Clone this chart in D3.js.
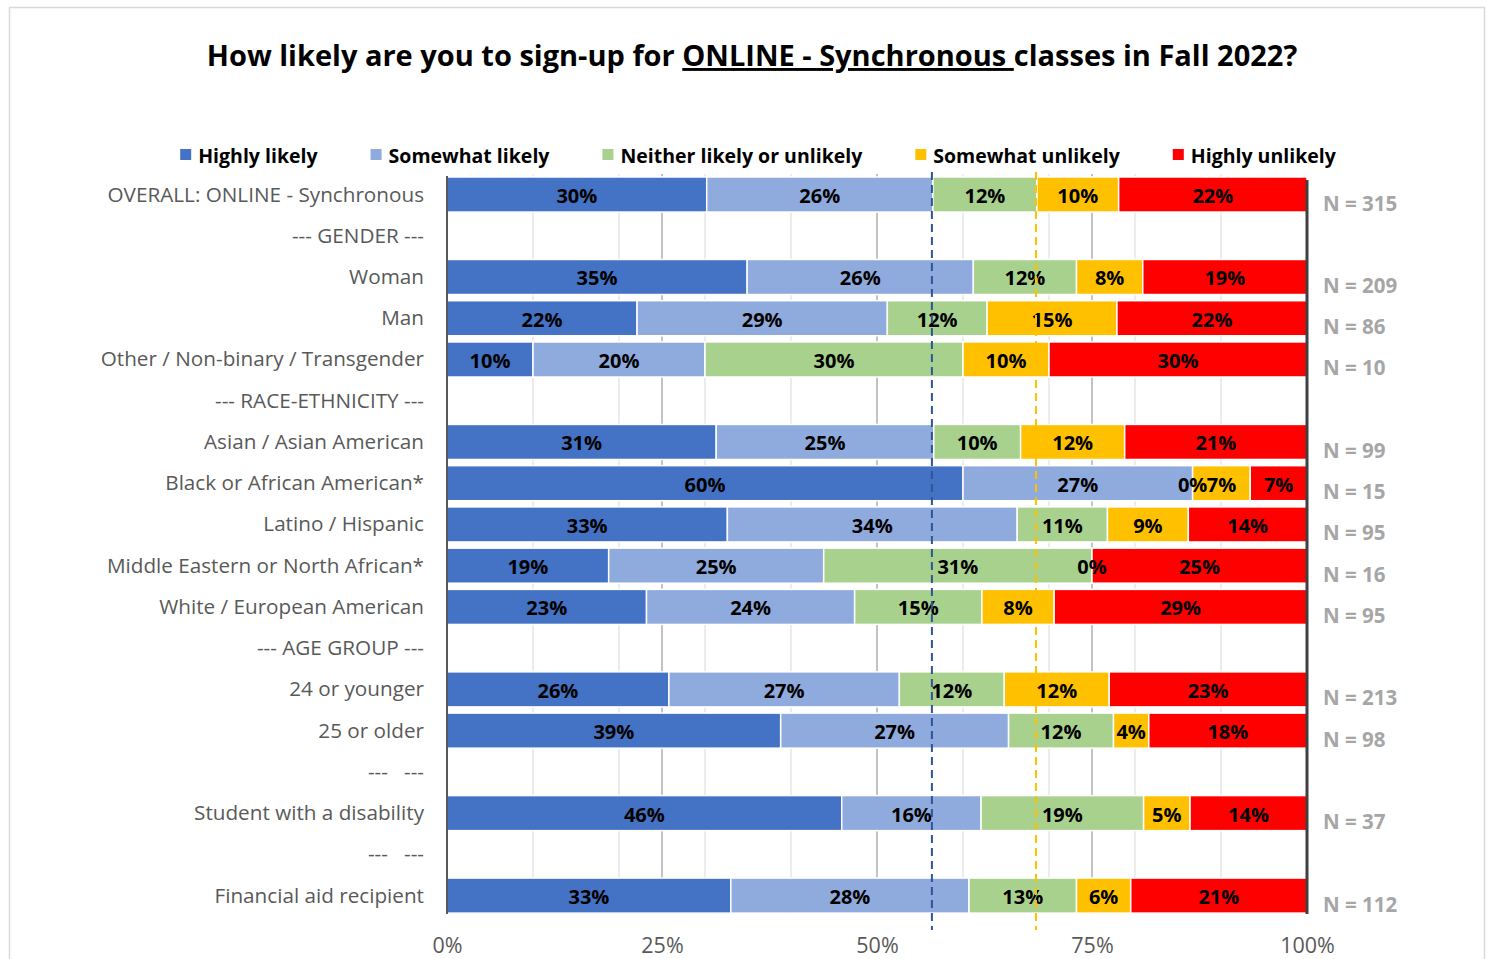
<!DOCTYPE html>
<html>
<head>
<meta charset="utf-8">
<script src="https://cdn.jsdelivr.net/npm/d3@7"></script>
<style>
  body { margin: 0; background: #fff; }
  text { font-family: "Open Sans", Lato, sans-serif; }
</style>
</head>
<body>
<div id="chart"></div>
<script>
// --- data (percent of respondents) ---
var categories = [
  "OVERALL: ONLINE - Synchronous", "--- GENDER ---", "Woman", "Man",
  "Other / Non-binary / Transgender", "--- RACE-ETHNICITY ---",
  "Asian / Asian American", "Black or African American*", "Latino / Hispanic",
  "Middle Eastern or North African*", "White / European American",
  "--- AGE GROUP ---", "24 or younger", "25 or older", "---   ---",
  "Student with a disability", "---   ---", "Financial aid recipient"
]
var seriesNames = ["Highly likely", "Somewhat likely", "Neither likely or unlikely", "Somewhat unlikely", "Highly unlikely"]
var highlyLikely     = [30.2, null, 34.9, 22.1, 10, null, 31.3, 60,   32.6, 18.8, 23.2, null, 25.8, 38.8, null, 45.9, null, 33.0]
var somewhatLikely   = [26.3, null, 26.3, 29.1, 20, null, 25.3, 26.7, 33.7, 25,   24.2, null, 26.8, 26.5, null, 16.2, null, 27.7]
var neither          = [12.1, null, 12.0, 11.6, 30, null, 10.1, 0,    10.5, 31.2, 14.8, null, 12.2, 12.2, null, 18.9, null, 12.5]
var somewhatUnlikely = [9.5,  null, 7.7,  15.1, 10, null, 12.1, 6.7,  9.4,  0,    8.4,  null, 12.2, 4.1,  null, 5.4,  null, 6.3]
var highlyUnlikely   = [21.9, null, 19.1, 22.1, 30, null, 21.2, 6.6,  13.8, 25,   29.4, null, 23.0, 18.4, null, 13.6, null, 20.5]
var nValues = [315, null, 209, 86, 10, null, 99, 15, 95, 16, 95, null, 213, 98, null, 37, null, 112]
var xTicks = [0, 25, 50, 75, 100]

var colors = ["#4472C4", "#8FAADC", "#A9D18E", "#FFC000", "#FF0000"]

var W = 1491, H = 959
var margin = {top: 174, right: 184, bottom: 45, left: 447}

var svg = d3.select("#chart").append("svg").attr("width", W).attr("height", H)

// frame
svg.append("rect").attr("x", 9.5).attr("y", 7.5).attr("width", 1475).attr("height", 980)
  .attr("fill", "#fff").attr("stroke", "#d9d9d9").attr("stroke-width", 1.5)

var x = d3.scaleLinear().domain([0, 100]).range([margin.left, W - margin.right])
var y = d3.scaleBand().domain(d3.range(categories.length)).range([173.9, 916.2]).paddingInner(0.15).paddingOuter(0.075)

var plotTop = 174, plotBottom = 914

// title
var title = svg.append("text").attr("x", 752).attr("y", 66).attr("text-anchor", "middle")
  .attr("font-size", 29).attr("font-weight", "bold").attr("fill", "#000")
title.append("tspan").text("How likely are you to sign-up for ")
title.append("tspan").style("text-decoration", "underline").text("ONLINE - Synchronous\u00a0")
title.append("tspan").text("classes in Fall 2022?")

// gridlines
svg.append("g").selectAll("line").data(d3.range(10, 100, 10)).join("line")
  .attr("x1", d => x(d)).attr("x2", d => x(d)).attr("y1", plotTop).attr("y2", plotBottom)
  .attr("stroke", "#ececec").attr("stroke-width", 2)
svg.append("g").selectAll("line").data([25, 50, 75]).join("line")
  .attr("x1", d => x(d)).attr("x2", d => x(d)).attr("y1", plotTop).attr("y2", plotBottom)
  .attr("stroke", "#c3c3c3").attr("stroke-width", 2)

// stacked bars
var rows = categories.map((c, i) => ({
  i: i, cat: c, n: nValues[i],
  v: [highlyLikely[i], somewhatLikely[i], neither[i], somewhatUnlikely[i], highlyUnlikely[i]]
})).filter(r => r.v[0] != null)

var segs = []
rows.forEach(r => {
  var acc = 0
  r.v.forEach((v, k) => { segs.push({i: r.i, k: k, v: v, x0: acc, x1: acc + v}); acc += v })
})

svg.append("g").selectAll("rect").data(segs.filter(d => d.v > 0)).join("rect")
  .attr("x", d => x(d.x0)).attr("width", d => x(d.x1) - x(d.x0))
  .attr("y", d => y(d.i)).attr("height", y.bandwidth())
  .attr("fill", d => colors[d.k]).attr("stroke", "#fff").attr("stroke-width", 1.5)

svg.append("g").selectAll("text").data(segs).join("text")
  .attr("x", d => x((d.x0 + d.x1) / 2)).attr("y", d => y(d.i) + y.bandwidth() / 2 + 1)
  .attr("text-anchor", "middle").attr("dominant-baseline", "central")
  .attr("font-size", 20).attr("font-weight", "bold").attr("fill", "#000")
  .text(d => Math.round(d.v) + "%")

// axes lines
svg.append("line").attr("x1", x(0)).attr("x2", x(0)).attr("y1", plotTop + 2).attr("y2", plotBottom)
  .attr("stroke", "#595959").attr("stroke-width", 2)
svg.append("line").attr("x1", x(100)).attr("x2", x(100)).attr("y1", plotTop + 6).attr("y2", plotBottom)
  .attr("stroke", "#404040").attr("stroke-width", 3)

// reference lines from overall row
var refA = highlyLikely[0] + somewhatLikely[0]
var refB = refA + neither[0]
svg.append("line").attr("x1", x(refA) - 1).attr("x2", x(refA) - 1).attr("y1", 172).attr("y2", 930)
  .attr("stroke", "#2F5597").attr("stroke-width", 2).attr("stroke-dasharray", "8,5")
svg.append("line").attr("x1", x(refB) - 1).attr("x2", x(refB) - 1).attr("y1", 172).attr("y2", 930)
  .attr("stroke", "#FFC000").attr("stroke-width", 2).attr("stroke-dasharray", "8,5")

// category labels
svg.append("g").selectAll("text").data(categories).join("text")
  .attr("x", 424).attr("y", (d, i) => y(i) + y.bandwidth() / 2 - 1)
  .attr("text-anchor", "end").attr("dominant-baseline", "central")
  .attr("font-size", 20.7).attr("fill", "#595959")
  .style("white-space", "pre")
  .text(d => d)

// N labels
svg.append("g").selectAll("text").data(rows).join("text")
  .attr("x", 1323).attr("y", d => y(d.i) + y.bandwidth() / 2 + 8)
  .attr("dominant-baseline", "central")
  .attr("font-size", 20.5).attr("font-weight", "bold").attr("fill", "#a6a6a6")
  .text(d => "N = " + d.n)

// x axis
var xAxis = svg.append("g").attr("transform", `translate(0,${plotBottom + 21})`)
  .call(d3.axisBottom(x).tickValues(xTicks).tickFormat(d => d + "%").tickSize(0))
xAxis.select(".domain").remove()
xAxis.selectAll("text").attr("font-size", 21.5).attr("fill", "#595959")
  .style("font-family", "'Open Sans', Lato, sans-serif")

// legend
var legend = svg.append("g")
var lx = 0
seriesNames.forEach((s, k) => {
  var g = legend.append("g").attr("transform", `translate(${lx},0)`)
  g.append("rect").attr("x", 0).attr("y", -6).attr("width", 11).attr("height", 11).attr("fill", colors[k])
  var t = g.append("text").attr("x", 18).attr("y", 0).attr("dominant-baseline", "central")
    .attr("font-size", 19.5).attr("font-weight", "bold").attr("fill", "#000").text(s)
  lx += 18 + t.node().getComputedTextLength() + 53
})
var lw = lx - 53
legend.attr("transform", `translate(${758 - lw / 2},155)`)
</script>
</body>
</html>
